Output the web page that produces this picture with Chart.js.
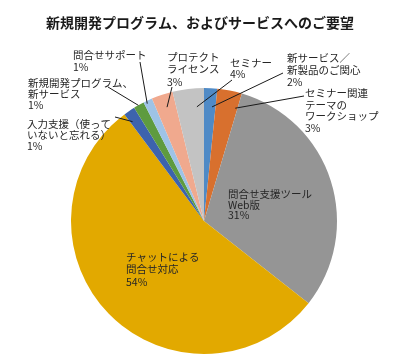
<!DOCTYPE html>
<html><head><meta charset="utf-8">
<script src="https://cdn.jsdelivr.net/npm/chart.js@4"></script>
<style>html,body{margin:0;padding:0;background:#fff}#wrap{width:400px;height:359px}</style>
</head><body><div id="wrap"><canvas id="c" width="400" height="359"></canvas></div>
<script>
const title = "新規開発プログラム、およびサービスへのご要望";
const categories = [
  "新サービス／\n新製品のご関心",
  "セミナー関連\nテーマの\nワークショップ",
  "問合せ支援ツール\nWeb版",
  "チャットによる\n問合せ対応",
  "入力支援（使って\nいないと忘れる）",
  "新規開発プログラム、\n新サービス",
  "問合せサポート",
  "プロテクト\nライセンス",
  "セミナー"
];
const values = [1.6, 3.0, 31.0, 54.2, 1.4, 1.3, 1.1, 2.6, 3.8];
const colors = ["#4f8ac6", "#d8702e", "#959595", "#e2a900", "#3d63ad", "#5e9b3f", "#9ec3e6", "#f0a98e", "#c3c3c3"];
// label placement: text position, leader start, leader end as fraction of slice angle / radius
const labelLayout = [
  {x:287, y:58,  lh:12,   line:true,  lx:283, ly:73, af:0.7,  rf:0.86},
  {x:305, y:93,  lh:11.7, line:true,  lx:304, ly:96, af:0.9,  rf:0.88},
  {x:228, y:194, lh:10.7, line:false},
  {x:126, y:257, lh:12.5, line:false},
  {x:27,  y:124, lh:11,   line:true,  lx:115, ly:117, af:0.2, rf:0.92},
  {x:28,  y:83,  lh:11,   line:true,  lx:108, ly:87, af:0.45, rf:1.0},
  {x:73,  y:55,  lh:12,   line:true,  lx:140, ly:62, af:0.3,  rf:0.98},
  {x:167, y:57,  lh:12.5, line:true,  lx:172, ly:87, af:0.54, rf:0.9},
  {x:230, y:63,  lh:11,   line:true,  lx:232, ly:80, af:0.74, rf:0.86}
];
const FONT = '"Noto Sans CJK JP", "Noto Sans CJK SC", sans-serif';

const labelPlugin = {
  id: 'pieLabels',
  afterDatasetsDraw(chart) {
    const ctx = chart.ctx;
    const meta = chart.getDatasetMeta(0);
    const total = values.reduce((a, b) => a + b, 0);
    ctx.save();
    meta.data.forEach((arc, i) => {
      const L = labelLayout[i];
      const p = arc.getProps(['x', 'y', 'startAngle', 'endAngle', 'outerRadius'], true);
      if (L.line) {
        const a = p.startAngle + (p.endAngle - p.startAngle) * L.af;
        const r = p.outerRadius * L.rf;
        ctx.beginPath();
        ctx.moveTo(L.lx, L.ly);
        ctx.lineTo(p.x + Math.cos(a) * r, p.y + Math.sin(a) * r);
        ctx.strokeStyle = '#1a1a1a';
        ctx.lineWidth = 1;
        ctx.stroke();
      }
      const lines = categories[i].split('\n').concat([Math.round(values[i] / total * 100) + '%']);
      ctx.font = '10.5px ' + FONT;
      ctx.fillStyle = '#262626';
      ctx.textBaseline = 'middle';
      ctx.textAlign = 'left';
      lines.forEach((t, k) => ctx.fillText(t, L.x, L.y + k * L.lh));
    });
    ctx.font = 'bold 14px ' + FONT;
    ctx.textAlign = 'center';
    ctx.textBaseline = 'middle';
    ctx.fillStyle = '#1a1a1a';
    ctx.fillText(title, 200, 23);
    ctx.restore();
  }
};

new Chart(document.getElementById('c'), {
  type: 'pie',
  data: {
    labels: categories,
    datasets: [{
      data: values,
      backgroundColor: colors,
      borderWidth: 0,
      hoverOffset: 0,
      offset: 0
    }]
  },
  options: {
    responsive: false,
    animation: false,
    layout: { padding: { top: 88, bottom: 5, left: 8, right: 0 } },
    plugins: {
      legend: { display: false },
      tooltip: { enabled: false },
      title: { display: false }
    }
  },
  plugins: [labelPlugin]
});
</script>
</body></html>
